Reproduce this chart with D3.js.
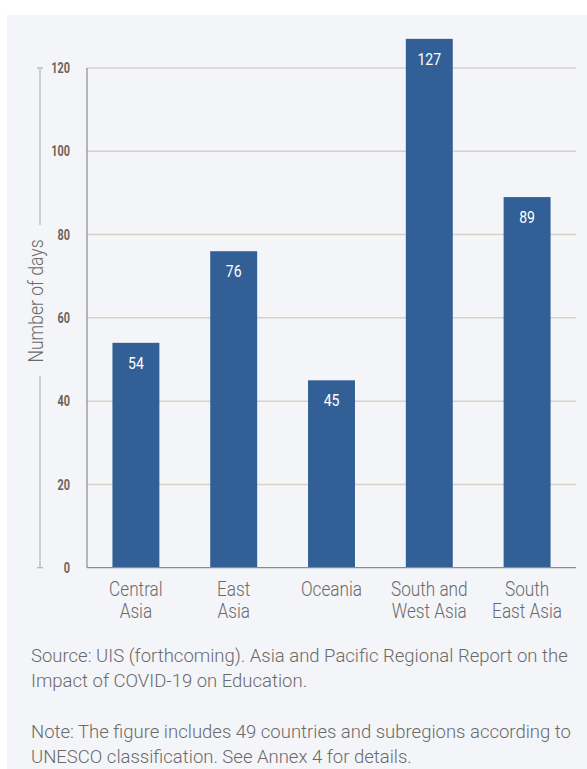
<!DOCTYPE html>
<html>
<head>
<meta charset="utf-8">
<script src="https://cdn.jsdelivr.net/npm/d3@7"></script>
<style>
  body { margin: 0; background: #fff; }
  svg { display: block; }
</style>
</head>
<body>
<div id="chart"></div>
<script>
var width = 587,
  height = 769;

// data
var regions = [['Central', 'Asia'], ['East', 'Asia'], ['Oceania'], ['South and', 'West Asia'], ['South', 'East Asia']];
var days = [54, 76, 45, 127, 89];
var yTicks = [0, 20, 40, 60, 80, 100, 120];
var notes = [
  ['Source: UIS (forthcoming). Asia and Pacific Regional Report on the', 'Impact of COVID-19 on Education.'],
  ['Note: The figure includes 49 countries and subregions according to', 'UNESCO classification. See Annex 4 for details.']
];

const bar_color = '#325f96';
const grid_color = '#d8d1c4';
const tick_color = '#6e6257';
const text_color = '#6a6a6a';

var svg = d3.select('#chart')
  .append('svg')
  .attr('width', width)
  .attr('height', height);

// panel
svg.append('rect')
  .attr('x', 7)
  .attr('y', 15)
  .attr('width', width - 7)
  .attr('height', height - 15)
  .attr('fill', '#f4f5f9');

var x = d3.scaleBand()
  .domain(d3.range(regions.length))
  .range([87, 576])
  .paddingInner(0.52)
  .paddingOuter(0.26);

var y = d3.scaleLinear()
  .domain([0, 120])
  .range([567.7, 68]);

// gridlines
svg.append('g')
  .selectAll('line')
  .data(yTicks.filter(d => d > 0))
  .join('line')
  .attr('x1', 87)
  .attr('x2', 576)
  .attr('y1', d => y(d))
  .attr('y2', d => y(d))
  .attr('stroke', grid_color)
  .attr('stroke-width', 1.5);

// tick labels (condensed look)
svg.append('g')
  .selectAll('text')
  .data(yTicks)
  .join('text')
  .attr('transform', d => 'translate(70,' + y(d) + ') scale(0.75,1)')
  .attr('text-anchor', 'end')
  .attr('dy', '0.35em')
  .attr('font-family', 'Roboto')
  .attr('font-weight', 700)
  .attr('font-size', 14.5)
  .attr('fill', tick_color)
  .text(d => d);

// bars
svg.append('g')
  .selectAll('rect')
  .data(days)
  .join('rect')
  .attr('x', (d, i) => x(i))
  .attr('y', d => y(d))
  .attr('width', x.bandwidth())
  .attr('height', d => y(0) - y(d))
  .attr('fill', bar_color);

// value labels
svg.append('g')
  .selectAll('text')
  .data(days)
  .join('text')
  .attr('transform', (d, i) => 'translate(' + (x(i) + x.bandwidth() / 2) + ',' + (y(d) + 20) + ') scale(0.85,1)')
  .attr('text-anchor', 'middle')
  .attr('dy', '0.35em')
  .attr('font-family', 'Roboto')
  .attr('font-weight', 400)
  .attr('font-size', 16.5)
  .attr('fill', '#fff')
  .text(d => d);

// axes lines
svg.append('line')
  .attr('x1', 87).attr('x2', 87)
  .attr('y1', y(120)).attr('y2', y(0))
  .attr('stroke', '#8c8c8c')
  .attr('stroke-width', 1.2);
svg.append('line')
  .attr('x1', 87).attr('x2', 576)
  .attr('y1', y(0)).attr('y2', y(0))
  .attr('stroke', '#8c8c8c')
  .attr('stroke-width', 1.2);

// category labels
regions.forEach(function(lines, i) {
  lines.forEach(function(t, j) {
    svg.append('text')
      .attr('transform', 'translate(' + (x(i) + x.bandwidth() / 2) + ',' + (596 + j * 22) + ') scale(0.86,1)')
      .attr('text-anchor', 'middle')
      .attr('font-family', 'Roboto')
      .attr('font-weight', 300)
      .attr('font-size', 20)
      .attr('fill', text_color)
      .text(t);
  });
});

// y axis title with bracket
var bracket = svg.append('g').attr('stroke', '#b4b4b8').attr('stroke-width', 1.2);
bracket.append('line').attr('x1', 40).attr('x2', 40).attr('y1', y(120)).attr('y2', 225);
bracket.append('line').attr('x1', 40).attr('x2', 40).attr('y1', 376).attr('y2', y(0));
bracket.append('line').attr('x1', 37).attr('x2', 43).attr('y1', y(120)).attr('y2', y(120));
bracket.append('line').attr('x1', 37).attr('x2', 43).attr('y1', y(0)).attr('y2', y(0));

svg.append('text')
  .attr('transform', 'translate(43,301) rotate(-90) scale(0.88,1)')
  .attr('text-anchor', 'middle')
  .attr('font-family', 'Roboto')
  .attr('font-weight', 300)
  .attr('font-size', 20)
  .attr('fill', text_color)
  .text('Number of days');

// source and note
notes.forEach(function(block, b) {
  block.forEach(function(t, j) {
    svg.append('text')
      .attr('x', 31)
      .attr('y', 662 + b * 76 + j * 25)
      .attr('font-family', 'Roboto')
      .attr('font-weight', 300)
      .attr('font-size', 18.5)
      .attr('fill', text_color)
      .text(t);
  });
});
</script>
</body>
</html>
